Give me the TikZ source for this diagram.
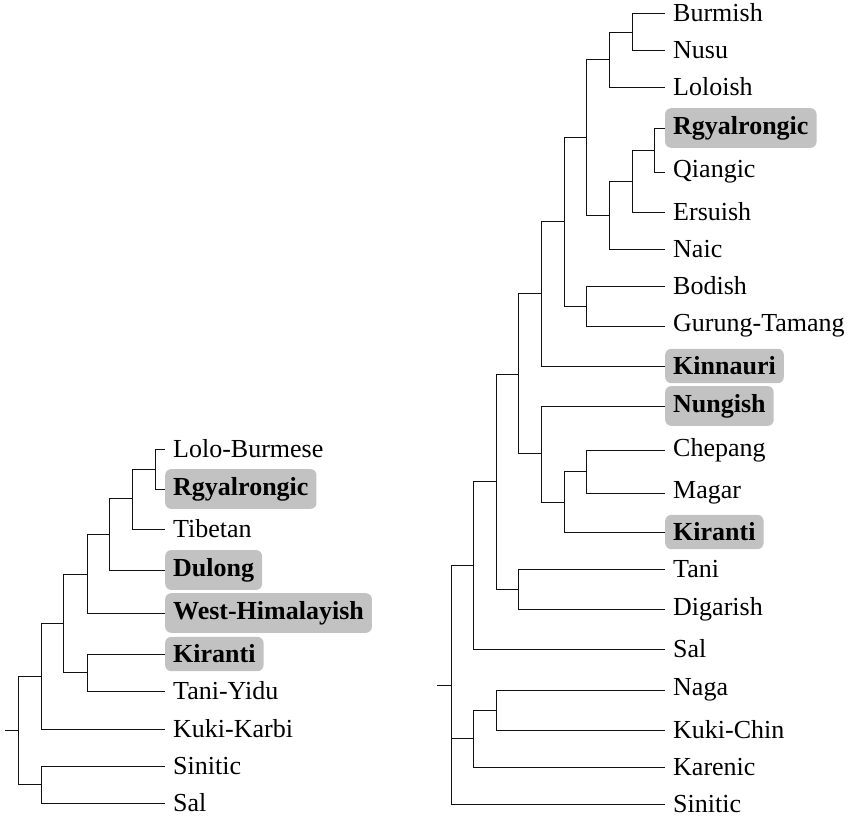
\documentclass[tikz,border=0pt]{standalone}
\usepackage{fontspec}
\setmainfont{Liberation Serif}
\usepackage{tikz}
\usetikzlibrary{positioning}
\definecolor{boxgray}{HTML}{C2C2C2}
\definecolor{ink}{HTML}{111111}
\newcommand{\treefont}{\fontsize{26}{30}\selectfont}
\tikzset{
  leaf/.style={anchor=west,inner sep=8pt,font=\treefont},
  hilite/.style={leaf,fill=boxgray,rounded corners=6pt,font=\treefont\bfseries},
  branch/.style={draw=ink,line width=0.8pt}
}

\begin{document}
\begin{tikzpicture}[x=1pt,y=-1pt]
  \useasboundingbox (0,0) rectangle (859,818);
  % ---- left tree: leaves
  \node[leaf]   (lolo)   at (165,449) {Lolo-Burmese};
  \node[hilite] (lrgyal) at (165,489) {Rgyalrongic};
  \node[leaf]   (tib)    at (165,529) {Tibetan};
  \node[hilite] (dul)    at (165,570) {Dulong};
  \node[hilite] (whim)   at (165,613) {West-Himalayish};
  \node[hilite] (lkir)   at (165,654) {Kiranti};
  \node[leaf]   (taniy)  at (165,691) {Tani-Yidu};
  \node[leaf]   (kuki)   at (165,729) {Kuki-Karbi};
  \node[leaf]   (lsin)   at (165,766) {Sinitic};
  \node[leaf]   (lsal)   at (165,803) {Sal};
  % ---- left tree: splits
  \coordinate (a1) at (155,469);
  \coordinate (a2) at (132,498);
  \coordinate (a3) at (109,534);
  \coordinate (a4) at (87,574);
  \coordinate (a5) at (87,672);
  \coordinate (a6) at (63,623);
  \coordinate (a7) at (41,676);
  \coordinate (a8) at (41,784);
  \coordinate (aroot) at (18,730);
  \coordinate (astub) at (5,730);
  \draw[branch] (a1) |- (lolo.west) (a1) |- (lrgyal.west);
  \draw[branch] (a2) |- (a1) (a2) |- (tib.west);
  \draw[branch] (a3) |- (a2) (a3) |- (dul.west);
  \draw[branch] (a4) |- (a3) (a4) |- (whim.west);
  \draw[branch] (a5) |- (lkir.west) (a5) |- (taniy.west);
  \draw[branch] (a6) |- (a4) (a6) |- (a5);
  \draw[branch] (a7) |- (a6) (a7) |- (kuki.west);
  \draw[branch] (a8) |- (lsin.west) (a8) |- (lsal.west);
  \draw[branch] (aroot) |- (a7) (aroot) |- (a8) (aroot) -- (astub);

  % ---- right tree: leaves
  \node[leaf]   (burm)   at (665,13)  {Burmish};
  \node[leaf]   (nusu)   at (665,50)  {Nusu};
  \node[leaf]   (lolois) at (665,87)  {Loloish};
  \node[hilite] (rrgyal) at (665,128) {Rgyalrongic};
  \node[leaf]   (qiang)  at (665,172) {Qiangic};
  \node[leaf]   (ersu)   at (665,212) {Ersuish};
  \node[leaf]   (naic)   at (665,249) {Naic};
  \node[leaf]   (bod)    at (665,286) {Bodish};
  \node[leaf]   (gur)    at (665,326) {Gurung-Tamang};
  \node[hilite] (kinn)   at (665,366) {Kinnauri};
  \node[hilite] (nung)   at (665,406) {Nungish};
  \node[leaf]   (chep)   at (665,450) {Chepang};
  \node[leaf]   (magar)  at (665,493) {Magar};
  \node[hilite] (rkir)   at (665,532) {Kiranti};
  \node[leaf]   (tani)   at (665,569) {Tani};
  \node[leaf]   (diga)   at (665,609) {Digarish};
  \node[leaf]   (rsal)   at (665,649) {Sal};
  \node[leaf]   (naga)   at (665,690) {Naga};
  \node[leaf]   (kchin)  at (665,730) {Kuki-Chin};
  \node[leaf]   (karen)  at (665,767) {Karenic};
  \node[leaf]   (rsin)   at (665,804) {Sinitic};
  % ---- right tree: splits
  \coordinate (b1) at (632,32);
  \coordinate (b2) at (609,59);
  \coordinate (b3) at (654,150);
  \coordinate (b4) at (632,181);
  \coordinate (b5) at (609,215);
  \coordinate (b6) at (586,137);
  \coordinate (b7) at (586,306);
  \coordinate (b8) at (564,221);
  \coordinate (b9) at (541,293);
  \coordinate (b10) at (586,471);
  \coordinate (b11) at (564,502);
  \coordinate (b12) at (541,453);
  \coordinate (b13) at (518,374);
  \coordinate (b14) at (518,589);
  \coordinate (b15) at (496,481);
  \coordinate (b16) at (473,565);
  \coordinate (b17) at (496,710);
  \coordinate (b18) at (473,738);
  \coordinate (broot) at (451,685);
  \coordinate (bstub) at (437,685);
  \draw[branch] (b1) |- (burm.west) (b1) |- (nusu.west);
  \draw[branch] (b2) |- (b1) (b2) |- (lolois.west);
  \draw[branch] (b3) |- (rrgyal.west) (b3) |- (qiang.west);
  \draw[branch] (b4) |- (b3) (b4) |- (ersu.west);
  \draw[branch] (b5) |- (b4) (b5) |- (naic.west);
  \draw[branch] (b6) |- (b2) (b6) |- (b5);
  \draw[branch] (b7) |- (bod.west) (b7) |- (gur.west);
  \draw[branch] (b8) |- (b6) (b8) |- (b7);
  \draw[branch] (b9) |- (b8) (b9) |- (kinn.west);
  \draw[branch] (b10) |- (chep.west) (b10) |- (magar.west);
  \draw[branch] (b11) |- (b10) (b11) |- (rkir.west);
  \draw[branch] (b12) |- (nung.west) (b12) |- (b11);
  \draw[branch] (b13) |- (b9) (b13) |- (b12);
  \draw[branch] (b14) |- (tani.west) (b14) |- (diga.west);
  \draw[branch] (b15) |- (b13) (b15) |- (b14);
  \draw[branch] (b16) |- (b15) (b16) |- (rsal.west);
  \draw[branch] (b17) |- (naga.west) (b17) |- (kchin.west);
  \draw[branch] (b18) |- (b17) (b18) |- (karen.west);
  \draw[branch] (broot) |- (b16) (broot) |- (b18) (broot) |- (rsin.west) (broot) -- (bstub);
\end{tikzpicture}
\end{document}
